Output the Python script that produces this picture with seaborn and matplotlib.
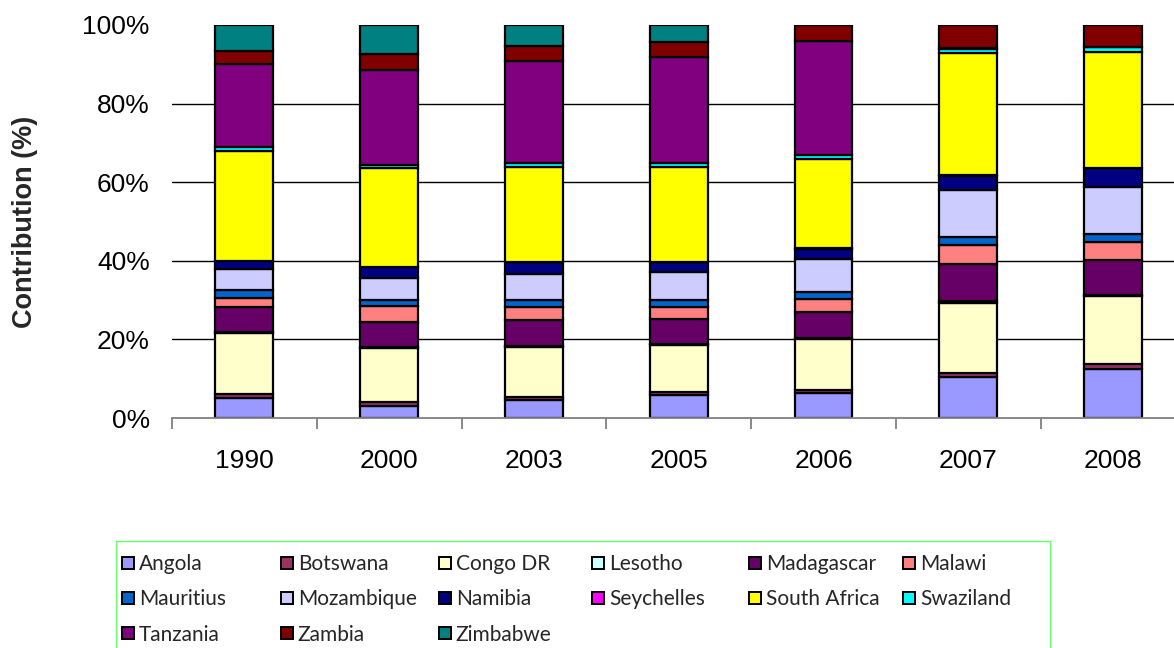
import matplotlib
matplotlib.use("Agg")
import matplotlib.pyplot as plt
from matplotlib.patches import Patch, Rectangle
import numpy as np
import pandas as pd
import seaborn as sns

# Years shown on the category axis
years = ["1990", "2000", "2003", "2005", "2006", "2007", "2008"]

# Share of each country in the regional total, per year (%)
angola       = [5.2, 3.1, 4.5, 5.8, 6.4, 10.4, 12.6]
botswana     = [1.0, 1.0, 0.85, 0.8, 0.6, 1.1, 1.2]
congo_dr     = [15.3, 13.6, 12.7, 11.9, 13.0, 17.8, 17.2]
lesotho      = [0.3, 0.3, 0.3, 0.3, 0.3, 0.4, 0.3]
madagascar   = [6.5, 6.4, 6.5, 6.5, 6.7, 9.5, 8.9]
malawi       = [2.3, 4.0, 3.4, 2.9, 3.4, 4.8, 4.8]
mauritius    = [2.0, 1.6, 1.7, 1.8, 1.7, 2.2, 1.9]
mozambique   = [5.2, 5.7, 6.8, 7.2, 8.3, 11.8, 11.9]
namibia      = [2.0, 2.6, 2.8, 2.5, 2.7, 3.7, 4.9]
seychelles   = [0.1, 0.1, 0.1, 0.1, 0.1, 0.1, 0.1]
south_africa = [27.9, 25.1, 24.2, 24.1, 22.8, 31.1, 29.6]
swaziland    = [1.2, 1.0, 0.9, 0.9, 0.9, 1.2, 1.1]
tanzania     = [20.9, 24.0, 26.1, 27.1, 29.1, 0.2, 0.2]
zambia       = [3.5, 4.0, 3.8, 3.8, 4.0, 5.8, 5.5]
zimbabwe     = [6.5, 7.5, 5.3, 4.3, 0.0, 0.0, 0.0]

countries = ["Angola", "Botswana", "Congo DR", "Lesotho", "Madagascar", "Malawi",
             "Mauritius", "Mozambique", "Namibia", "Seychelles", "South Africa",
             "Swaziland", "Tanzania", "Zambia", "Zimbabwe"]
series = [angola, botswana, congo_dr, lesotho, madagascar, malawi, mauritius,
          mozambique, namibia, seychelles, south_africa, swaziland, tanzania,
          zambia, zimbabwe]
colors = ["#9999FF", "#993366", "#FFFFCC", "#CCFFFF", "#660066", "#FF8080",
          "#0066CC", "#CCCCFF", "#000080", "#FF00FF", "#FFFF00", "#00FFFF",
          "#800080", "#800000", "#008080"]

# 100% stacked: normalise each year to its total
raw = pd.DataFrame(np.array(series).T, index=years, columns=countries)
pct = raw.div(raw.sum(axis=1), axis=0) * 100

sns.set_theme(style="white")
plt.rcParams["font.family"] = ["Liberation Sans", "DejaVu Sans"]

W, H = 1174, 648
fig = plt.figure(figsize=(W / 100, H / 100), dpi=100)
ax_left, ax_right, ax_top, ax_bottom = 172, 1185.5, 25, 418
ax = fig.add_axes([ax_left / W, 1 - ax_bottom / H,
                   (ax_right - ax_left) / W, (ax_bottom - ax_top) / H])

bottom = np.zeros(len(years))
for name, col in zip(countries, colors):
    sns.barplot(x=years, y=pct[name].values, order=years, bottom=bottom,
                color=col, saturation=1, width=0.4, edgecolor="black",
                linewidth=1.6, ax=ax, zorder=3)
    bottom = bottom + pct[name].values

ax.set_xlim(-0.5, len(years) - 0.5)
ax.set_ylim(0, 100)

# y axis: percent labels, black gridlines (none at 100%)
ax.set_yticks([0, 20, 40, 60, 80, 100])
ax.set_yticklabels([f"{v}%" for v in [0, 20, 40, 60, 80, 100]])
ax.yaxis.grid(True, color="black", linewidth=1.0, zorder=0)
ax.set_axisbelow(True)
ax.get_ygridlines()[-1].set_visible(False)
ax.get_ygridlines()[0].set_visible(False)
ax.tick_params(axis="y", length=0, pad=16, labelsize=19, colors="black")

# x axis: labels centred on bars, tick marks between categories
ax.set_xticks(range(len(years)))
ax.set_xticklabels(years)
ax.set_xticks(np.arange(-0.5, len(years), 1.0), minor=True)
ax.tick_params(axis="x", which="major", length=0, pad=22, labelsize=19,
               colors="black")
ax.tick_params(axis="x", which="minor", length=8, width=1.3, color="#808080",
               direction="out", bottom=True)

for side in ["left", "right", "top"]:
    ax.spines[side].set_visible(False)
ax.spines["bottom"].set_color("#808080")
ax.spines["bottom"].set_linewidth(1.3)
ax.spines["bottom"].set_zorder(4)

ax.set_xlabel("")
ax.set_ylabel("Contribution (%)", fontsize=19.5, fontweight="bold")
ax.yaxis.set_label_coords((25 - ax_left) / (ax_right - ax_left), 0.5)
ax.yaxis.label.set_va("center")

# Legend: bordered box with six columns of entries
box_left, box_top, box_right, box_bottom = 116, 541, 1050, 650
fig.patches.append(Rectangle((box_left / W, 1 - box_bottom / H),
                             (box_right - box_left) / W,
                             (box_bottom - box_top) / H,
                             transform=fig.transFigure, fill=False,
                             edgecolor="#66FF66", linewidth=1.0))
col_x = [118, 277, 435, 588, 745, 899]
ncol = 6
for c in range(ncol):
    idx = list(range(c, len(countries), ncol))
    handles = [Patch(facecolor=colors[i], edgecolor="black", linewidth=1.4)
               for i in idx]
    labels = [countries[i] for i in idx]
    fig.legend(handles, labels, loc="upper left",
               bbox_to_anchor=(col_x[c] / W, 1 - 550 / H),
               frameon=False, ncol=1, handlelength=0.55, handleheight=0.55,
               handletextpad=0.25, labelspacing=0.73, borderaxespad=0,
               borderpad=0.2, prop={"family": "Lato", "size": 15})

fig.savefig("out.png", dpi=100)
